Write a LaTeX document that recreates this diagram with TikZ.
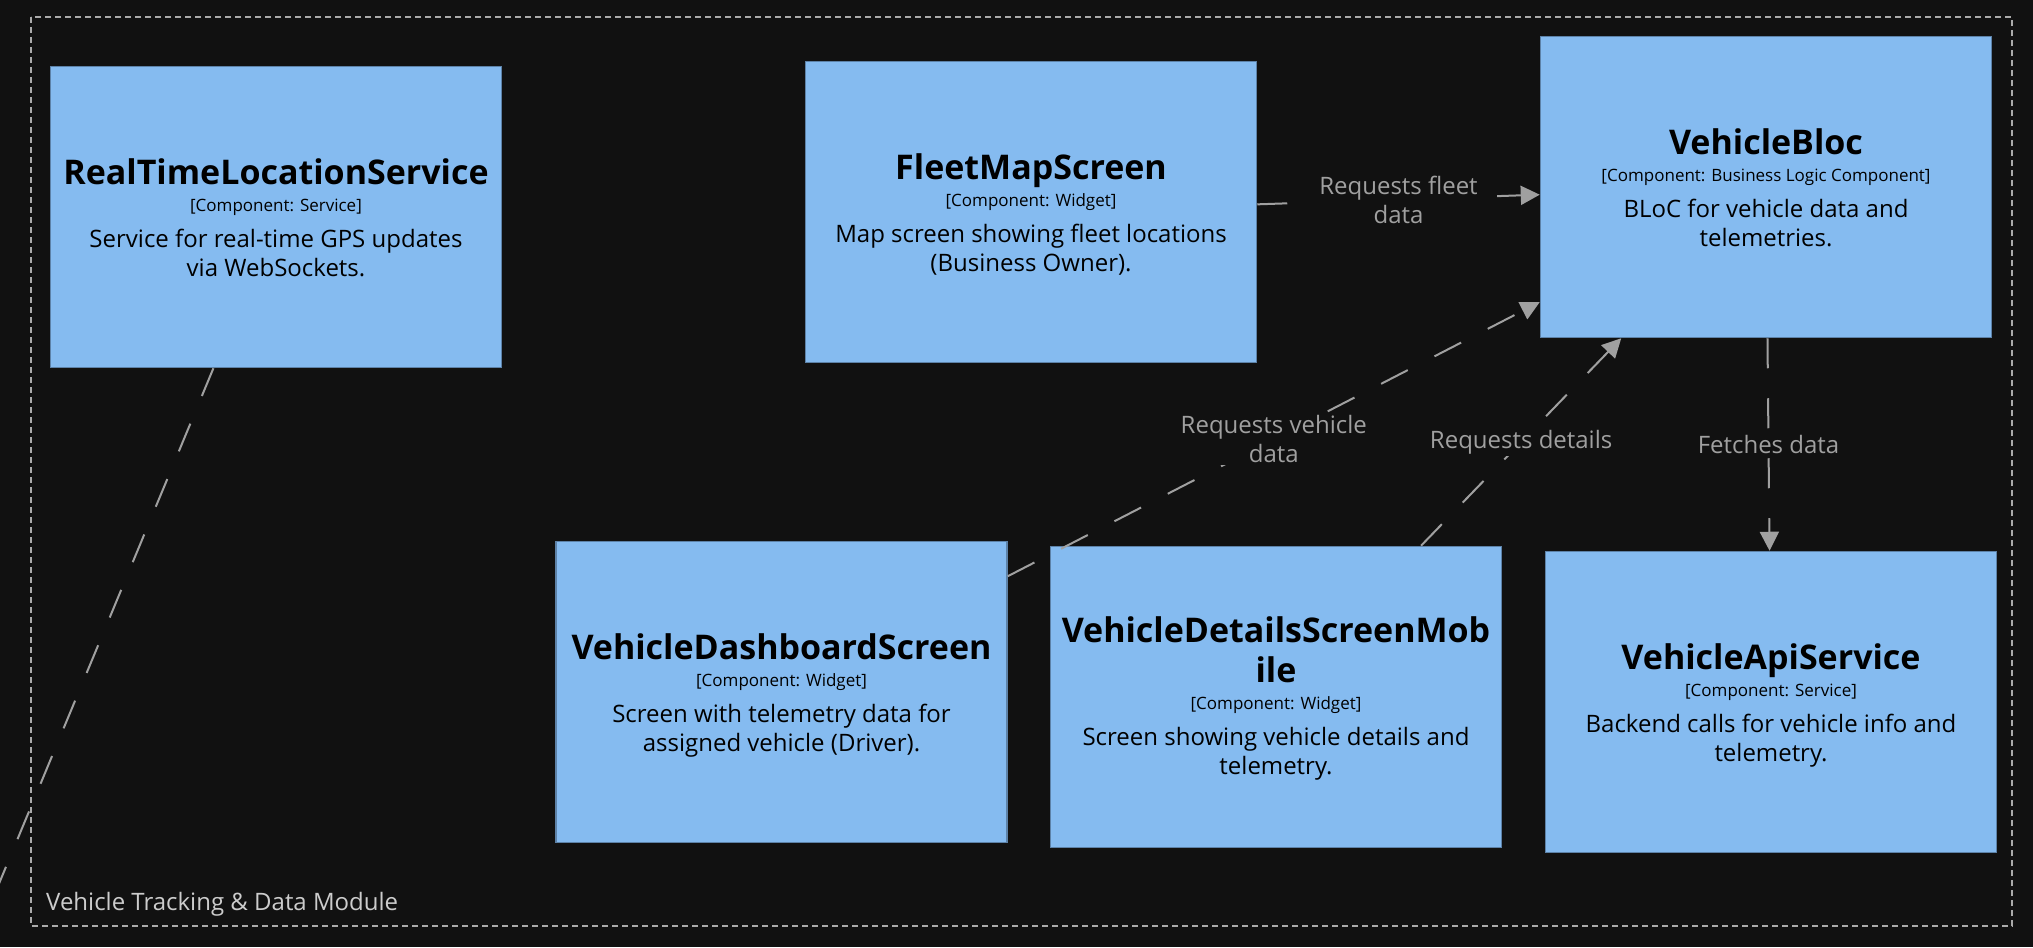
\documentclass[tikz,border=0pt]{standalone}
\usepackage{fontspec}
\setmainfont{Open Sans}
\usetikzlibrary{arrows.meta,calc}
\definecolor{bg}{HTML}{111111}
\definecolor{compfill}{HTML}{85BBF0}
\definecolor{compline}{HTML}{5D82A8}
\definecolor{edgecol}{HTML}{A0A0A0}
\definecolor{framecol}{HTML}{AAAAAA}
\definecolor{frametext}{HTML}{CCCCCC}
\tikzset{
  comp/.style={rectangle, fill=compfill, draw=compline, line width=1.5pt,
    minimum width=451pt, minimum height=301pt, inner sep=0pt},
  ttl/.style={anchor=base, inner sep=0pt, text=black, font=\fontsize{34}{40}\selectfont\bfseries},
  meta/.style={anchor=base, inner sep=0pt, text=black, font=\fontsize{17}{20}\selectfont},
  desc/.style={anchor=base, inner sep=0pt, text=black, font=\fontsize{24}{29}\selectfont},
  rel/.style={draw=edgecol, line width=2pt, dash pattern=on 30pt off 30pt,
    -{Triangle[length=19pt,width=19pt]}},
  rellabel/.style={fill=bg, text=edgecol, inner sep=2pt, align=center,
    font=\fontsize{24}{29}\selectfont},
}
\newcommand\mkcomp[6]{%
  \node[comp] (#1) at (#2) {};
  \node[ttl] (#1-t) at ($(#1.north)+(0,119)$) {#3};
  \node[meta] (#1-m) at ($(#1.north)+(0,146)$) {#4};
  \node[desc] (#1-d1) at ($(#1.north)+(0,182)$) {#5};
  \node[desc] (#1-d2) at ($(#1.north)+(0,211)$) {#6};
}
\begin{document}
\begin{tikzpicture}[x=1pt,y=-1pt]
  \fill[bg] (0,0) rectangle (2033,947);
  \useasboundingbox (0,0) rectangle (2033,947);
  \clip (0,0) rectangle (2033,947);
  % boundary
  \draw[framecol, line width=1.5pt, dash pattern=on 6pt off 4pt] (31,17) rectangle (2012,926);
  \node[anchor=base west, inner sep=0pt, text=frametext, font=\fontsize{24}{29}\selectfont]
    (frame-label) at (46,910) {Vehicle Tracking \& Data Module};
  % components
  \mkcomp{rt}{276,217}{RealTimeLocationService}{[Component: Service]}{Service for real-time GPS updates}{via WebSockets.}
  \mkcomp{fleet}{1031,212}{FleetMapScreen}{[Component: Widget]}{Map screen showing fleet locations}{(Business Owner).}
  \mkcomp{bloc}{1766,187}{VehicleBloc}{[Component: Business Logic Component]}{BLoC for vehicle data and}{telemetries.}
  \mkcomp{dash}{781.5,692}{VehicleDashboardScreen}{[Component: Widget]}{Screen with telemetry data for}{assigned vehicle (Driver).}
  \mkcomp{api}{1771,702}{VehicleApiService}{[Component: Service]}{Backend calls for vehicle info and}{telemetry.}
  % details (two-line title)
  \node[comp] (det) at (1276,697) {};
  \node[ttl] (det-t1) at ($(det.north)+(0,97)$) {VehicleDetailsScreenMob};
  \node[ttl] (det-t2) at ($(det.north)+(0,137)$) {ile};
  \node[meta] (det-m) at ($(det.north)+(0,164)$) {[Component: Widget]};
  \node[desc] (det-d1) at ($(det.north)+(0,200)$) {Screen showing vehicle details and};
  \node[desc] (det-d2) at ($(det.north)+(0,229)$) {telemetry.};
  % relationships
  \coordinate (ext) at (-106,1136);
  \draw[draw=edgecol, line width=2pt, dash pattern=on 30pt off 30pt] (rt) -- (ext);
  \draw[rel] (fleet) -- node[rellabel] (l1) {Requests fleet\\data} (bloc);
  \draw[rel] (dash) -- node[rellabel] (l2) {Requests vehicle\\data} (bloc);
  \draw[rel] (det) -- node[rellabel] (l3) {Requests details} (bloc);
  \draw[rel] (bloc) -- node[rellabel] (l4) {Fetches data} (api);
\end{tikzpicture}
\end{document}
